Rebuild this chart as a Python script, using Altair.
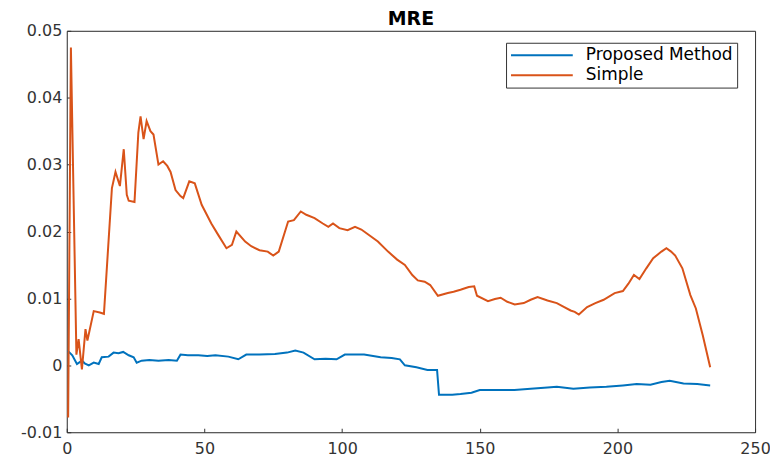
import altair as alt
import pandas as pd

# ---- data ----
series_names = ["Proposed Method", "Simple"]
series_colors = ["#0072BD", "#D95319"]
x_ticks = [0, 50, 100, 150, 200, 250]
y_ticks = [-0.01, 0, 0.01, 0.02, 0.03, 0.04, 0.05]

x_simple = [0.5, 1.5, 3.5, 4.3, 5.5, 6.8, 7.5, 9.8, 12, 13.5, 16.4, 17.7, 19.3, 20.7,
            21.8, 22.5, 24.6, 26, 26.8, 27.9, 29, 30.4, 31.5, 33.3, 35, 36.5, 37.7,
            39.5, 41.3, 42.3, 44.5, 46.5, 49, 52.5, 55, 58, 60, 61.6, 64.8, 67, 70,
            73, 75, 77, 80.4, 82.5, 85, 87, 90, 93, 95, 96.7, 99, 102, 104.7, 107,
            109, 113, 116.7, 120, 122.8, 125.5, 127.5, 130, 132, 134.8, 138.4,
            140.5, 143, 146, 148, 149, 153, 155.5, 157.6, 160, 162.7, 166, 168.5,
            171, 174.6, 178, 180.7, 183, 184.5, 186, 189, 192, 195, 199, 202, 204,
            206, 208, 210.5, 213, 216, 217.8, 219.5, 221, 223.6, 226.5, 228.5, 231,
            233.7]
y_simple = [-0.0078, 0.0475, 0.0016, 0.0039, -0.0006, 0.0054, 0.0037, 0.0081, 0.0079,
            0.0077, 0.0265, 0.0289, 0.0268, 0.0323, 0.0255, 0.0246, 0.0244, 0.0348,
            0.0372, 0.0338, 0.0365, 0.0350, 0.0345, 0.0300, 0.0305, 0.0298, 0.0289,
            0.0262, 0.0253, 0.0250, 0.0275, 0.0272, 0.0240, 0.0212, 0.0195, 0.0175,
            0.0180, 0.0200, 0.0185, 0.0178, 0.0172, 0.0170, 0.0164, 0.0170, 0.0215,
            0.0217, 0.0230, 0.0225, 0.0220, 0.0212, 0.0207, 0.0212, 0.0205, 0.0202,
            0.0207, 0.0203, 0.0197, 0.0185, 0.0170, 0.0158, 0.0150, 0.0135, 0.0127,
            0.0125, 0.0120, 0.0104, 0.0108, 0.0110, 0.0113, 0.0117, 0.0118, 0.0104,
            0.0096, 0.0099, 0.0101, 0.0095, 0.0091, 0.0093, 0.0098, 0.0102, 0.0097,
            0.0093, 0.0087, 0.0082, 0.0080, 0.0076, 0.0087, 0.0093, 0.0098, 0.0108,
            0.0111, 0.0122, 0.0135, 0.0129, 0.0145, 0.0160, 0.0170, 0.0175, 0.0170,
            0.0164, 0.0145, 0.0105, 0.0085, 0.0045, -0.0003]

x_proposed = [0.3, 2, 3.7, 5.5, 6.5, 8, 9.8, 11.6, 12.7, 15.2, 17, 18.8, 20.5, 22.5,
              24.3, 25.4, 27.2, 30, 33.3, 37, 40, 41.3, 44, 47.8, 51, 54, 58.7, 62.3,
              65.2, 70, 75.6, 80, 83, 86, 90, 94, 98, 101, 104, 108, 114, 118, 121,
              122.8, 127, 131, 134.5, 135.2, 140, 143, 147, 150, 156.5, 162.6, 168.5,
              174.6, 178, 184, 190, 196, 202, 207, 212, 216, 219, 224, 229, 233.7]
y_proposed = [0.0022, 0.0015, 0.0002, 0.0007, 0.0003, 0.0000, 0.0004, 0.0002, 0.0012,
              0.0013, 0.0019, 0.0018, 0.0020, 0.0015, 0.0012, 0.0004, 0.0007, 0.0008,
              0.0007, 0.0008, 0.0007, 0.0016, 0.0015, 0.0015, 0.0014, 0.0015, 0.0013,
              0.0009, 0.0016, 0.0016, 0.0017, 0.0019, 0.0022, 0.0019, 0.0009, 0.0010,
              0.0009, 0.0016, 0.0016, 0.0016, 0.0012, 0.0011, 0.0009, 0.0000, -0.0003,
              -0.0007, -0.0007, -0.0044, -0.0044, -0.0043, -0.0041, -0.0037, -0.0037,
              -0.0037, -0.0035, -0.0033, -0.0032, -0.0035, -0.0033, -0.0032, -0.0030,
              -0.0028, -0.0029, -0.0025, -0.0023, -0.0027, -0.0028, -0.0030]

df = pd.concat([
    pd.DataFrame({"x": x_proposed, "y": y_proposed, "series": series_names[0]}),
    pd.DataFrame({"x": x_simple, "y": y_simple, "series": series_names[1]}),
], ignore_index=True)

W, H = 691, 403
font = "DejaVu Sans"
ink = "#333333"
inward = alt.ExprRef(expr="-4")   # negative tick length -> ticks point into the plot

xscale = alt.Scale(domain=[0, 250], nice=False, zero=False)
yscale = alt.Scale(domain=[-0.01, 0.05], nice=False, zero=False)

# bottom/left frame = axis domains; top/right frame = the grid line at the last tick only
frame = dict(title=None, domain=True, domainColor=ink, domainWidth=1,
             ticks=True, tickColor=ink, tickWidth=1, tickSize=inward,
             grid=True, gridColor=ink, gridWidth=1)

x_axis = alt.Axis(orient="bottom", values=x_ticks, labelPadding=12, labelFlush=False,
                  labelFont=font, labelFontSize=16, labelColor=ink,
                  gridOpacity={"condition": {"test": "datum.value >= 249.9", "value": 1},
                               "value": 0},
                  **frame)
y_axis = alt.Axis(orient="left", values=y_ticks, labelPadding=9, format="~g",
                  labelFont=font, labelFontSize=16, labelColor=ink,
                  gridOpacity={"condition": {"test": "datum.value >= 0.0499", "value": 1},
                               "value": 0},
                  **frame)

chart = alt.Chart(df).mark_line(strokeWidth=2).encode(
    x=alt.X("x:Q", scale=xscale, axis=x_axis),
    y=alt.Y("y:Q", scale=yscale, axis=y_axis),
    color=alt.Color("series:N",
                    scale=alt.Scale(domain=series_names, range=series_colors),
                    legend=alt.Legend(title=None, orient="none", legendX=441, legendY=12,
                                      direction="vertical", strokeColor=ink,
                                      fillColor="white", padding=4, symbolType="stroke",
                                      symbolSize=3844, symbolStrokeWidth=2, clipHeight=17,
                                      labelFont=font, labelFontSize=17, labelColor="#000",
                                      labelOffset=12)),
).properties(
    width=W, height=H,
    autosize=alt.AutoSizeParams(type="none"),
    padding={"left": 59, "top": 22, "right": 15, "bottom": 30},
    title=alt.Title("MRE", font=font, fontSize=19, fontWeight="bold", color="#000",
                    anchor="middle", frame="group", offset=2, dy=8),
).configure_view(stroke=ink, strokeWidth=1).configure(background="white")

chart.save("out.html", embed_options={
    "renderer": "svg", "actions": False,
    "formatLocale": {"decimal": ".", "thousands": ",", "grouping": [3],
                     "currency": ["$", ""], "minus": "-"},
})
